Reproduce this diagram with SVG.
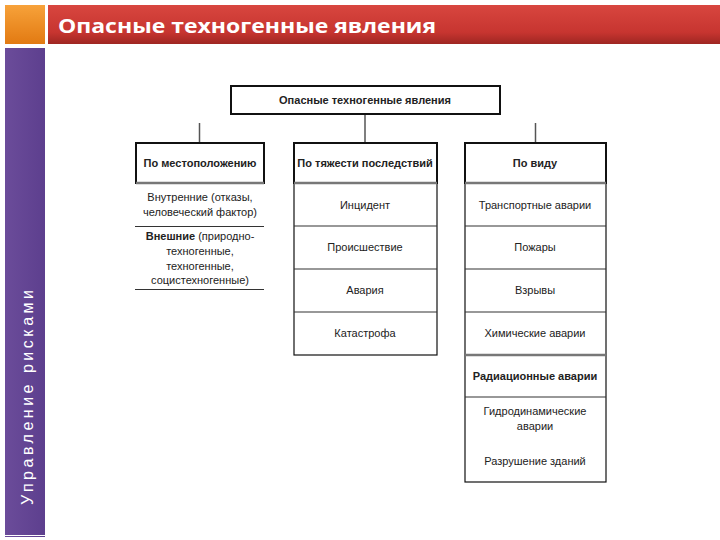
<svg xmlns="http://www.w3.org/2000/svg" width="720" height="540" viewBox="0 0 720 540">
<defs>
<linearGradient id="red" x1="0" y1="0" x2="0" y2="1">
<stop offset="0" stop-color="#d8463f"/><stop offset="0.7" stop-color="#c73530"/><stop offset="1" stop-color="#9e2622"/>
</linearGradient>
<linearGradient id="org" x1="0" y1="0" x2="0" y2="1">
<stop offset="0" stop-color="#f7a23a"/><stop offset="1" stop-color="#e27a12"/>
</linearGradient>
<linearGradient id="pur" x1="0" y1="0" x2="1" y2="0">
<stop offset="0" stop-color="#6b4c9a"/><stop offset="1" stop-color="#5d3f8e"/>
</linearGradient>
</defs>
<style>
.t{font-family:"Liberation Sans",Arial,sans-serif;font-size:11px;fill:#222;text-anchor:middle}
.b{font-weight:bold}
.box{fill:#fff;stroke:#111;stroke-width:2}
.cell{fill:#fff;stroke:#111;stroke-width:1.2}
.sep{stroke:#777;stroke-width:2.5}
.ln{stroke:#333;stroke-width:1.2}
.con{stroke:#555;stroke-width:1.5;fill:none}
</style>
<rect width="720" height="540" fill="#fff"/>
<g id="header">
<rect x="5" y="5" width="40" height="39" fill="url(#org)"/>
<rect x="48" y="5" width="672" height="39" fill="url(#red)"/>
<text x="58" y="33" font-family="'Open Sans','Liberation Sans',sans-serif" font-weight="bold" font-size="20" fill="#fff" textLength="378" lengthAdjust="spacingAndGlyphs">Опасные техногенные явления</text>
</g>
<g id="sidebar">
<rect x="5" y="48" width="40" height="489" fill="url(#pur)"/>
<line x1="5" y1="535.5" x2="45" y2="535.5" stroke="#fff" stroke-width="1"/>
<text transform="translate(33,505) rotate(-90)" font-family="'Liberation Sans',Arial,sans-serif" font-size="16" fill="#fff" textLength="215" lengthAdjust="spacing">Управление рисками</text>
</g>
<g id="connectors">
<line class="con" x1="365" y1="114" x2="365" y2="142"/>
<line class="con" x1="199.5" y1="123" x2="199.5" y2="142"/>
<line class="con" x1="535.5" y1="123" x2="535.5" y2="142"/>
</g>
<g id="root">
<rect class="box" x="231" y="86" width="269" height="28"/>
<text class="t b" x="365" y="104">Опасные техногенные явления</text>
</g>
<g id="col1">
<rect class="box" x="136" y="143" width="128" height="40"/>
<line class="sep" x1="136" y1="183" x2="264" y2="183"/>
<text class="t b" x="200" y="167">По местоположению</text>
<text class="t" x="200" y="201">Внутренние (отказы,</text>
<text class="t" x="200" y="216">человеческий фактор)</text>
<line class="ln" x1="135" y1="226.5" x2="264" y2="226.5"/>
<text class="t" x="200" y="240"><tspan class="b">Внешние</tspan> (природно-</text>
<text class="t" x="200" y="255">техногенные,</text>
<text class="t" x="200" y="270">техногенные,</text>
<text class="t" x="200" y="284">социстехногенные)</text>
<line class="ln" x1="135" y1="289.5" x2="264" y2="289.5"/>
</g>
<g id="col2">
<rect class="box" x="294" y="143" width="143" height="40"/>
<text class="t b" x="365" y="167">По тяжести последствий</text>
<rect class="cell" x="294" y="183" width="143" height="172"/>
<line class="ln" x1="294" y1="226" x2="437" y2="226"/>
<line class="ln" x1="294" y1="269" x2="437" y2="269"/>
<line class="ln" x1="294" y1="312" x2="437" y2="312"/>
<line class="sep" x1="294" y1="183" x2="437" y2="183"/>
<text class="t" x="365" y="209">Инцидент</text>
<text class="t" x="365" y="251">Происшествие</text>
<text class="t" x="365" y="294">Авария</text>
<text class="t" x="365" y="337">Катастрофа</text>
</g>
<g id="col3">
<rect class="box" x="465" y="143" width="141" height="40"/>
<text class="t b" x="535" y="167">По виду</text>
<rect class="cell" x="465" y="183" width="141" height="299"/>
<line class="ln" x1="465" y1="226" x2="606" y2="226"/>
<line class="ln" x1="465" y1="269" x2="606" y2="269"/>
<line class="ln" x1="465" y1="312" x2="606" y2="312"/>
<line class="ln" x1="465" y1="397" x2="606" y2="397"/>
<line class="sep" x1="465" y1="183" x2="606" y2="183"/>
<line class="sep" x1="465" y1="355" x2="606" y2="355"/>
<text class="t" x="535" y="209">Транспортные аварии</text>
<text class="t" x="535" y="251">Пожары</text>
<text class="t" x="535" y="294">Взрывы</text>
<text class="t" x="535" y="337">Химические аварии</text>
<text class="t b" x="535" y="380">Радиационные аварии</text>
<text class="t" x="535" y="415">Гидродинамические</text>
<text class="t" x="535" y="430">аварии</text>
<text class="t" x="535" y="465">Разрушение зданий</text>
</g>
</svg>
